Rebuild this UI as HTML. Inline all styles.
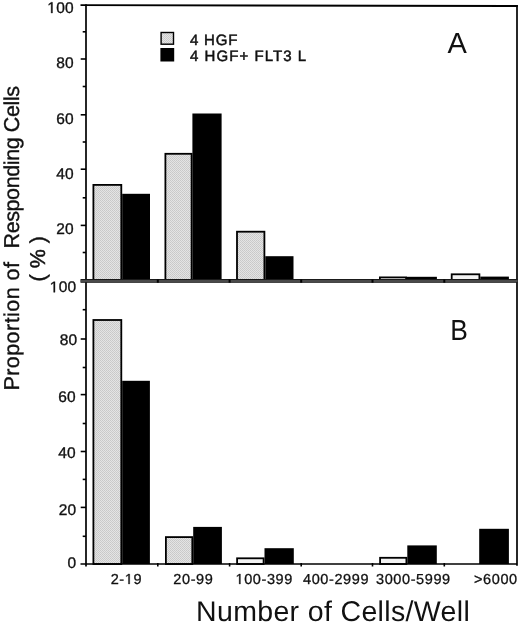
<!DOCTYPE html>
<html><head><meta charset="utf-8">
<style>
html,body{margin:0;padding:0;background:#fff;}
body{width:520px;height:623px;overflow:hidden;}
svg{display:block;text-rendering:geometricPrecision;will-change:transform;}
text{font-family:"Liberation Sans",sans-serif;fill:#111;}
.yl{font-size:15.5px;letter-spacing:0.3px;text-anchor:end;stroke:#111;stroke-width:0.35px;}
.xl{font-size:14.5px;letter-spacing:0.6px;stroke:#111;stroke-width:0.3px;}
</style></head>
<body>
<svg width="520" height="623" viewBox="0 0 520 623">
<defs>
<pattern id="st" width="2" height="2" patternUnits="userSpaceOnUse">
<rect width="2" height="2" fill="#e4e4e4"/>
<rect width="1" height="1" fill="#c8c8c8"/>
<rect x="1" y="1" width="1" height="1" fill="#cccccc"/>
</pattern>
</defs>

<!-- Panel A bars -->
<g stroke="#000" stroke-width="1.8" fill="url(#st)">
<rect x="93.40" y="184.90" width="27.90" height="95.60"/>
<rect x="165.40" y="153.80" width="26.20" height="126.70"/>
<rect x="237.00" y="231.70" width="27.40" height="48.80"/>
<rect x="379.90" y="277.40" width="26.20" height="3.10" fill="#f2f2f2"/>
<rect x="451.70" y="274.30" width="27.70" height="6.20" fill="#f2f2f2"/>
</g>
<g fill="#000">
<rect x="122.20" y="193.80" width="27.80" height="86.70"/>
<rect x="192.40" y="113.50" width="29.20" height="167.00"/>
<rect x="265.30" y="256.20" width="28.20" height="24.30"/>
<rect x="407.00" y="276.80" width="29.90" height="3.70"/>
<rect x="480.30" y="276.60" width="28.60" height="3.90"/>
</g>

<!-- Panel B bars -->
<g stroke="#000" stroke-width="1.8" fill="url(#st)">
<rect x="93.40" y="320.00" width="27.90" height="244.00"/>
<rect x="165.90" y="537.10" width="26.40" height="26.90"/>
<rect x="237.10" y="558.30" width="26.50" height="5.70" fill="#f2f2f2"/>
<rect x="380.10" y="557.80" width="26.30" height="6.20" fill="#f2f2f2"/>
</g>
<g fill="#000">
<rect x="122.20" y="380.80" width="27.70" height="183.20"/>
<rect x="193.20" y="526.90" width="28.70" height="37.10"/>
<rect x="264.50" y="548.20" width="29.30" height="15.80"/>
<rect x="407.30" y="545.40" width="29.50" height="18.60"/>
<rect x="479.20" y="528.80" width="29.70" height="35.20"/>
</g>

<g stroke="#000" fill="none">
<!-- frame -->
<line x1="80.5" y1="5.2" x2="517.8" y2="6" stroke-width="1.8"/>
<line x1="86" y1="4.3" x2="86" y2="566.5" stroke-width="1.7"/>
<line x1="517" y1="5" x2="517" y2="565.7" stroke-width="1.7"/>
<line x1="80.5" y1="564" x2="517" y2="564" stroke-width="1.6"/>
</g>
<!-- A/B separator band -->
<rect x="80.5" y="279" width="437" height="3.8" fill="#1a1a1a"/>
<rect x="80.5" y="280.3" width="437" height="1.4" fill="#606060"/>
<g fill="#000"><rect x="156.8" y="279.5" width="2" height="3.2"/><rect x="228.6" y="279.5" width="2" height="3.2"/><rect x="300.2" y="279.5" width="2" height="3.2"/><rect x="371.5" y="279.5" width="2" height="3.2"/><rect x="443.3" y="279.5" width="2" height="3.2"/></g>
<g stroke="#000" stroke-width="1.6">
<!-- A major ticks -->
<line x1="80.7" y1="59" x2="86" y2="59"/>
<line x1="80.7" y1="114.8" x2="86" y2="114.8"/>
<line x1="80.7" y1="169.2" x2="86" y2="169.2"/>
<line x1="80.7" y1="225.4" x2="86" y2="225.4"/>
<!-- A minor -->
<line x1="82.7" y1="31.8" x2="86" y2="31.8"/>
<line x1="82.7" y1="86.5" x2="86" y2="86.5"/>
<line x1="82.7" y1="142" x2="86" y2="142"/>
<line x1="82.7" y1="197.8" x2="86" y2="197.8"/>
<line x1="82.7" y1="252.5" x2="86" y2="252.5"/>
<!-- B major -->
<line x1="80.7" y1="339" x2="86" y2="339"/>
<line x1="80.7" y1="394.6" x2="86" y2="394.6"/>
<line x1="80.7" y1="451.5" x2="86" y2="451.5"/>
<line x1="80.7" y1="507.4" x2="86" y2="507.4"/>
<!-- B minor -->
<line x1="82.7" y1="309.7" x2="86" y2="309.7"/>
<line x1="82.7" y1="367.5" x2="86" y2="367.5"/>
<line x1="82.7" y1="423.5" x2="86" y2="423.5"/>
<line x1="82.7" y1="479.4" x2="86" y2="479.4"/>
<line x1="82.7" y1="536.3" x2="86" y2="536.3"/>
<!-- x ticks B -->
<line x1="157.8" y1="563" x2="157.8" y2="566.5"/>
<line x1="229.6" y1="563" x2="229.6" y2="566.5"/>
<line x1="301.2" y1="563" x2="301.2" y2="566.5"/>
<line x1="372.5" y1="563" x2="372.5" y2="566.5"/>
<line x1="444.3" y1="563" x2="444.3" y2="566.5"/>
</g>

<!-- Legend -->
<rect x="161.1" y="32.5" width="12.4" height="11.7" fill="url(#st)" stroke="#000" stroke-width="1.4"/>
<rect x="160.4" y="48" width="13.8" height="13.5" fill="#000"/>
<text x="190" y="44.7" style="font-size:15px;letter-spacing:0.8px;stroke:#111;stroke-width:0.5px">4 HGF</text>
<text x="190" y="60.8" style="font-size:15px;letter-spacing:1.05px;stroke:#111;stroke-width:0.5px">4 HGF+ FLT3 L</text>

<text x="447.5" y="53.3" style="font-size:29px">A</text>
<text transform="translate(450.3,340.4) scale(0.91,1)" style="font-size:29px">B</text>

<!-- Y labels A -->
<text class="yl" x="74" y="13"><tspan style="fill:none;stroke:none">1</tspan>00</text>
<text class="yl" x="74" y="67.6">80</text>
<text class="yl" x="74" y="123.8">60</text>
<text class="yl" x="74" y="178.5">40</text>
<text class="yl" x="74" y="233.8">20</text>
<!-- Y labels B -->
<text class="yl" x="76.5" y="292.3"><tspan style="fill:none;stroke:none">1</tspan>00</text>
<text class="yl" x="77.5" y="345.4">80</text>
<text class="yl" x="76" y="401.5">60</text>
<text class="yl" x="76" y="457.7">40</text>
<text class="yl" x="76.5" y="514.8">20</text>
<text class="yl" x="76.5" y="567.8">0</text>

<!-- X labels -->
<text class="xl" x="110.7" y="584">2-<tspan style="fill:none;stroke:none">1</tspan>9</text>
<text class="xl" x="173.3" y="584">20-99</text>
<text class="xl" x="235.5" y="584"><tspan style="fill:none;stroke:none">1</tspan>00-399</text>
<text class="xl" x="303" y="584">400-2999</text>
<text class="xl" x="376" y="584">3000-5999</text>
<text class="xl" x="474" y="584">&gt;6000</text>

<!-- footless ones -->
<path transform="translate(47.234,13) scale(0.007568,-0.007568)" d="M515 0V1237L197 1010V1180L530 1409H696V0Z" fill="#111" stroke="#111" stroke-width="46.2" stroke-linejoin="miter"/>
<path transform="translate(49.734,292.3) scale(0.007568,-0.007568)" d="M515 0V1237L197 1010V1180L530 1409H696V0Z" fill="#111" stroke="#111" stroke-width="46.2" stroke-linejoin="miter"/>
<path transform="translate(124.778,584) scale(0.007080,-0.007080)" d="M515 0V1237L197 1010V1180L530 1409H696V0Z" fill="#111" stroke="#111" stroke-width="42.4" stroke-linejoin="miter"/>
<path transform="translate(235.500,584) scale(0.007080,-0.007080)" d="M515 0V1237L197 1010V1180L530 1409H696V0Z" fill="#111" stroke="#111" stroke-width="42.4" stroke-linejoin="miter"/>

<!-- Axis titles -->
<text x="196" y="620.8" style="font-size:28.5px;letter-spacing:0.35px">Number of Cells/Well</text>
<text transform="translate(19.2,390.6) rotate(-90)" style="font-size:21.5px;letter-spacing:0.45px;stroke:#111;stroke-width:0.35px">Proportion of</text>
<text transform="translate(19.2,248.5) rotate(-90)" style="font-size:21.5px;letter-spacing:-0.4px;stroke:#111;stroke-width:0.35px">Responding Cells</text>
<text transform="translate(45,281.5) rotate(-90)" style="font-size:21.5px;white-space:pre;stroke:#111;stroke-width:0.45px">( % )</text>
</svg>
</body></html>
